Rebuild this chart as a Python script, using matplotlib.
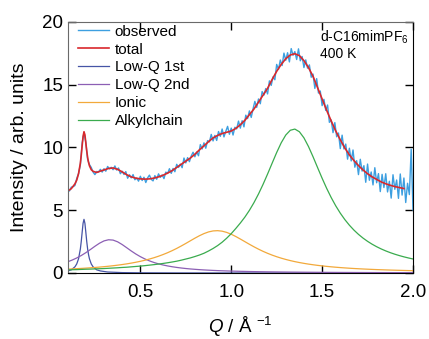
import numpy as np
import matplotlib
matplotlib.use("Agg")
import matplotlib.pyplot as plt

plt.rcParams.update({
    "font.family": ["Liberation Sans", "DejaVu Sans"],
    "mathtext.fontset": "custom",
    "mathtext.rm": "Liberation Sans",
    "mathtext.it": "Liberation Sans:italic",
    "mathtext.bf": "Liberation Sans:bold",
})

# --- colours ---------------------------------------------------------------
C_OBS = "#3d9fe0"
C_TOT = "#d9282c"
C_LQ1 = "#4654a6"
C_LQ2 = "#8c5fb4"
C_ION = "#f2a93b"
C_ALK = "#3aab4e"

# --- observed data (Q step 0.01) ------------------------------------------
q_obs = np.round(np.arange(0.10, 2.0001, 0.01), 2)
i_obs = [
    6.55, 6.53, 6.83, 6.87, 6.96, 7.51, 7.92, 8.60, 10.35, 11.16,
    10.41, 9.03, 8.63, 8.40, 8.03, 7.83, 8.08, 8.03, 8.25, 8.03,
    8.30, 8.10, 8.48, 8.29, 8.41, 8.22, 8.52, 8.19, 8.36, 7.90,
    8.10, 7.84, 8.07, 7.54, 7.82, 7.57, 7.83, 7.42, 7.56, 7.31,
    7.70, 7.36, 7.62, 7.20, 7.57, 7.79, 7.45, 7.33, 7.75, 7.46,
    7.89, 7.61, 7.81, 7.51, 8.03, 7.92, 8.30, 7.93, 8.32, 8.06,
    8.65, 8.40, 8.67, 8.38, 9.15, 8.76, 9.18, 8.86, 9.31, 9.61,
    9.25, 9.63, 9.33, 10.22, 9.87, 10.36, 9.93, 10.54, 10.43, 11.03,
    10.51, 10.95, 10.55, 11.26, 10.88, 11.46, 10.83, 11.27, 11.67, 11.04,
    11.53, 10.98, 11.60, 11.47, 12.09, 11.53, 12.12, 11.63, 12.56, 12.29,
    12.90, 12.38, 13.06, 13.66, 13.18, 13.85, 13.47, 14.44, 14.16, 14.68,
    14.25, 15.29, 14.93, 15.61, 15.38, 16.60, 16.21, 16.95, 16.51, 17.50,
    16.93, 17.53, 16.80, 17.86, 17.33, 17.62, 16.99, 17.84, 16.89, 17.23,
    16.35, 16.96, 16.30, 16.56, 15.58, 15.83, 14.69, 15.47, 14.32, 14.48,
    13.32, 13.82, 12.94, 13.37, 11.99, 12.18, 11.17, 11.97, 10.84, 11.14,
    9.90, 10.97, 9.87, 10.26, 9.06, 9.93, 8.92, 9.79, 8.42, 8.94,
    7.83, 9.05, 8.11, 8.54, 7.22, 8.67, 7.38, 8.04, 7.01, 8.38,
    7.18, 7.91, 6.48, 7.85, 6.80, 7.90, 6.45, 7.30, 5.96, 7.82,
    6.66, 7.40, 5.94, 7.88, 6.20, 7.56, 5.61, 7.14, 6.24, 9.85,
    5.01,
]

# --- total fit -------------------------------------------------------------
q_tot = [0.10, 0.12, 0.14, 0.15, 0.16, 0.17, 0.175, 0.18, 0.185, 0.19,
         0.195, 0.20, 0.205, 0.21, 0.215, 0.22, 0.23, 0.24, 0.26, 0.28,
         0.30] + list(np.round(np.arange(0.325, 1.9501, 0.025), 3))
i_tot = [6.51, 6.71, 7.09, 7.39, 7.90, 8.74, 9.39, 10.15, 10.87, 11.24,
         11.00, 10.37, 9.72, 9.19, 8.81, 8.53, 8.22, 8.09, 8.00, 8.11,
         8.20,
         8.32, 8.36, 8.25, 8.05, 7.82, 7.65, 7.55, 7.49, 7.47, 7.49,
         7.55, 7.65, 7.78, 7.95, 8.15, 8.40, 8.65, 8.90, 9.15, 9.45,
         9.80, 10.12, 10.45, 10.75, 10.95, 11.10, 11.20, 11.30, 11.50, 11.80,
         12.15, 12.60, 13.05, 13.60, 14.15, 14.70, 15.40, 16.05, 16.60, 17.05,
         17.35, 17.45, 17.30, 16.90, 16.35, 15.65, 14.75, 13.85, 12.95, 12.10,
         11.30, 10.60, 9.95, 9.40, 8.95, 8.55, 8.20, 7.90, 7.65, 7.45,
         7.25, 7.10, 6.98, 6.88, 6.80, 6.72]

# --- Low-Q 1st (narrow pre-peak) ------------------------------------------
q_lq1 = [0.10, 0.12, 0.14, 0.15, 0.16, 0.17, 0.175, 0.18, 0.185, 0.19,
         0.195, 0.20, 0.205, 0.21, 0.215, 0.22, 0.23, 0.24, 0.26, 0.28,
         0.32, 0.40, 0.50, 0.70, 1.00, 1.50, 2.00]
i_lq1 = [0.164, 0.250, 0.489, 0.719, 1.13, 1.91, 2.52, 3.26, 3.96, 4.27,
         3.96, 3.26, 2.52, 1.91, 1.46, 1.13, 0.719, 0.489, 0.250, 0.164,
         0.079, 0.031, 0.014, 0.005, 0.002, 0.001, 0.0005]

# --- broad components (Q step 0.025) --------------------------------------
q_fit = np.round(np.arange(0.10, 2.0001, 0.025), 3)
i_lq2 = [
    0.890, 1.030, 1.195, 1.391, 1.616, 1.865, 2.125, 2.367, 2.554, 2.645,
    2.619, 2.481, 2.265, 2.011, 1.753, 1.513, 1.301, 1.119, 0.965, 0.836,
    0.728, 0.638, 0.562, 0.498, 0.444, 0.397, 0.357, 0.322, 0.293, 0.267,
    0.244, 0.224, 0.206, 0.190, 0.176, 0.164, 0.152,
    0.142, 0.133, 0.125, 0.117, 0.110, 0.104, 0.098, 0.092, 0.088, 0.083,
    0.079, 0.075, 0.071, 0.068, 0.065, 0.062, 0.059, 0.057, 0.054, 0.052,
    0.050, 0.048, 0.046, 0.044, 0.0425, 0.041, 0.0395, 0.038, 0.037, 0.0355,
    0.034, 0.033, 0.032, 0.031, 0.030, 0.029, 0.028, 0.027, 0.026, 0.0257,
]
i_ion = [
    0.307, 0.325, 0.344, 0.365, 0.388, 0.413, 0.440, 0.470, 0.503, 0.539,
    0.579, 0.623, 0.672, 0.726, 0.787, 0.855, 0.930, 1.015, 1.110, 1.216,
    1.335, 1.468, 1.615, 1.778, 1.956, 2.149, 2.352, 2.562, 2.770, 2.966,
    3.136, 3.268, 3.348, 3.369, 3.329, 3.231, 3.085,
    2.905, 2.704, 2.495, 2.286, 2.086, 1.898, 1.724, 1.566, 1.424, 1.296,
    1.181, 1.079, 0.987, 0.905, 0.832, 0.767, 0.708, 0.656, 0.608, 0.566,
    0.527, 0.492, 0.460, 0.431, 0.405, 0.380, 0.358, 0.338, 0.319, 0.302,
    0.286, 0.271, 0.258, 0.245, 0.233, 0.222, 0.212, 0.202, 0.193, 0.185,
]
i_alk = [
    0.250, 0.260, 0.270, 0.285, 0.300, 0.310, 0.325, 0.340, 0.355, 0.375,
    0.395, 0.415, 0.440, 0.460, 0.490, 0.520, 0.550, 0.585, 0.625, 0.665,
    0.710, 0.760, 0.815, 0.875, 0.940, 1.020, 1.110, 1.200, 1.310, 1.430,
    1.570, 1.750, 1.950, 2.180, 2.450, 2.770, 3.130,
    3.540, 3.975, 4.447, 4.986, 5.598, 6.288, 7.051, 7.877, 8.738, 9.588,
    10.362, 10.979, 11.360, 11.454, 11.241, 10.756, 10.066, 9.254, 8.392, 7.541,
    6.737, 6.003, 5.344, 4.762, 4.251, 3.805, 3.415, 3.075, 2.779, 2.520,
    2.292, 2.092, 1.915, 1.758, 1.619, 1.495, 1.385, 1.285, 1.196, 1.115,
]

# --- figure ------------------------------------------------------------------
fig = plt.figure(figsize=(4.29, 3.39), dpi=100)
ax = fig.add_axes([0.1585, 0.1947, 0.8042, 0.7413])

ax.plot(q_obs, i_obs, color=C_OBS, lw=1.0, label="observed")
ax.plot(q_tot, i_tot, color=C_TOT, lw=1.2, label="total")
ax.plot(q_lq1, i_lq1, color=C_LQ1, lw=0.9, label="Low-Q 1st")
ax.plot(q_fit, i_lq2, color=C_LQ2, lw=0.9, label="Low-Q 2nd")
ax.plot(q_fit, i_ion, color=C_ION, lw=0.9, label="Ionic")
ax.plot(q_fit, i_alk, color=C_ALK, lw=0.9, label="Alkylchain")

ax.set_xlim(0.102, 2.0)
ax.set_ylim(0, 20)
ax.set_xticks([0.5, 1.0, 1.5, 2.0])
ax.set_xticklabels(["0.5", "1.0", "1.5", "2.0"])
ax.set_yticks([0, 5, 10, 15, 20])
ax.tick_params(direction="in", top=True, right=True, length=6, width=1,
               labelsize=13.5)
ax.tick_params(axis="x", pad=8)
ax.tick_params(axis="y", pad=3.5)

for side in ("top", "left"):
    ax.spines[side].set_color("#6a6a6a")
for side in ("bottom", "right"):
    ax.spines[side].set_color("black")

ax.set_xlabel(r"$Q$ / Å ${}^{-1}$", fontsize=13.5)
ax.set_ylabel("Intensity / arb. units", fontsize=14)
ax.xaxis.set_label_coords(0.5, -0.165)
ax.yaxis.set_label_coords(-0.115, 0.5)

ax.legend(loc="upper left", bbox_to_anchor=(0.02, 1.0), frameon=False,
          fontsize=11, handlelength=2.0, handletextpad=0.4,
          labelspacing=0.25, borderpad=0.1, borderaxespad=0.1)

ax.text(0.73, 0.939, r"d-C16mimPF$_{\mathrm{6}}$", transform=ax.transAxes,
        fontsize=10, ha="left", va="center")
ax.text(0.73, 0.871, "400 K", transform=ax.transAxes,
        fontsize=10, ha="left", va="center")

fig.savefig("out.png", dpi=100)
